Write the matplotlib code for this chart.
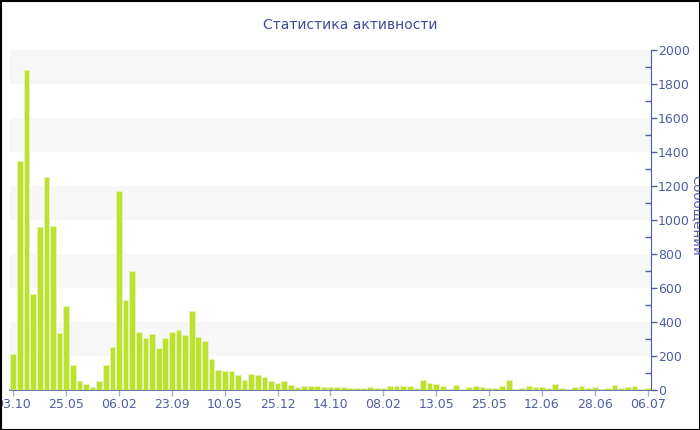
import matplotlib.pyplot as plt
from matplotlib.patches import Rectangle
from matplotlib.ticker import MultipleLocator

# Сообщений за период (по одному столбцу на период)
messages = [
    210, 1345, 1880, 565, 961, 1251, 967, 333, 496, 145,
    53, 33, 20, 55, 149, 251, 1173, 531, 702, 341,
    304, 329, 245, 304, 339, 355, 324, 463, 312, 290,
    185, 116, 110, 110, 87, 57, 93, 86, 77, 51,
    42, 55, 31, 16, 25, 24, 22, 16, 16, 15,
    16, 11, 11, 11, 17, 11, 11, 23, 24, 24,
    24, 9, 56, 41, 38, 24, 8, 31, 6, 16,
    25, 16, 12, 14, 22, 59, 8, 14, 22, 18,
    20, 12, 37, 14, 8, 18, 25, 12, 18, 8,
    12, 29, 10, 16, 25, 8, 12,
]
date_labels = ['03.10', '25.05', '06.02', '23.09', '10.05', '25.12', '14.10',
               '08.02', '13.05', '25.05', '12.06', '28.06', '06.07']
label_step = 8

bar_color = '#bde12f'
axis_color = '#4d5fa3'
band_color = '#f7f7f7'

fig = plt.figure(figsize=(7, 4.3), dpi=100)
ax = fig.add_axes([10 / 700, 1 - 390 / 430, 641 / 700, 340 / 430])

x = range(len(messages))
ax.bar(x, messages, width=0.86, color=bar_color, edgecolor='#e6f3b8',
       linewidth=0.6, zorder=3)

# чередующиеся полосы фона
for lo in range(200, 2000, 400):
    ax.axhspan(lo, lo + 200, color=band_color, zorder=0, lw=0)

ax.set_xlim(-0.5, len(messages) - 0.5)
ax.set_ylim(0, 2000)

ax.set_xticks(range(0, len(messages), label_step))
ax.set_xticklabels(date_labels)

ax.yaxis.tick_right()
ax.yaxis.set_major_locator(MultipleLocator(200))
ax.yaxis.set_minor_locator(MultipleLocator(100))
ax.tick_params(axis='y', which='major', direction='out', length=4, width=1,
               color=axis_color, labelcolor=axis_color, labelsize=9, pad=1)
ax.tick_params(axis='y', which='minor', direction='in', length=4, width=1,
               color=axis_color)
ax.tick_params(axis='x', direction='out', length=4, width=1,
               color='#aab0c8', labelcolor=axis_color, labelsize=9, pad=2)

for side in ['top', 'left']:
    ax.spines[side].set_visible(False)
ax.spines['right'].set_color(axis_color)
ax.spines['bottom'].set_color(axis_color)
ax.spines['bottom'].set_linewidth(1.2)

fig.text(0.5, 1 - 25 / 430, 'Статистика активности', ha='center', va='center',
         fontsize=10, color='#3e4d99')
fig.text(690 / 700, 0.5, 'Сообщений', rotation=270, ha='left', va='center',
         fontsize=9.5, color=axis_color)

# рамка вокруг всего графика
fig.patches.append(Rectangle((0.5 / 700, 0.5 / 430), 699 / 700, 429 / 430,
                             transform=fig.transFigure, fill=False,
                             edgecolor='black', linewidth=1.5))

fig.savefig('out.png', dpi=100)
